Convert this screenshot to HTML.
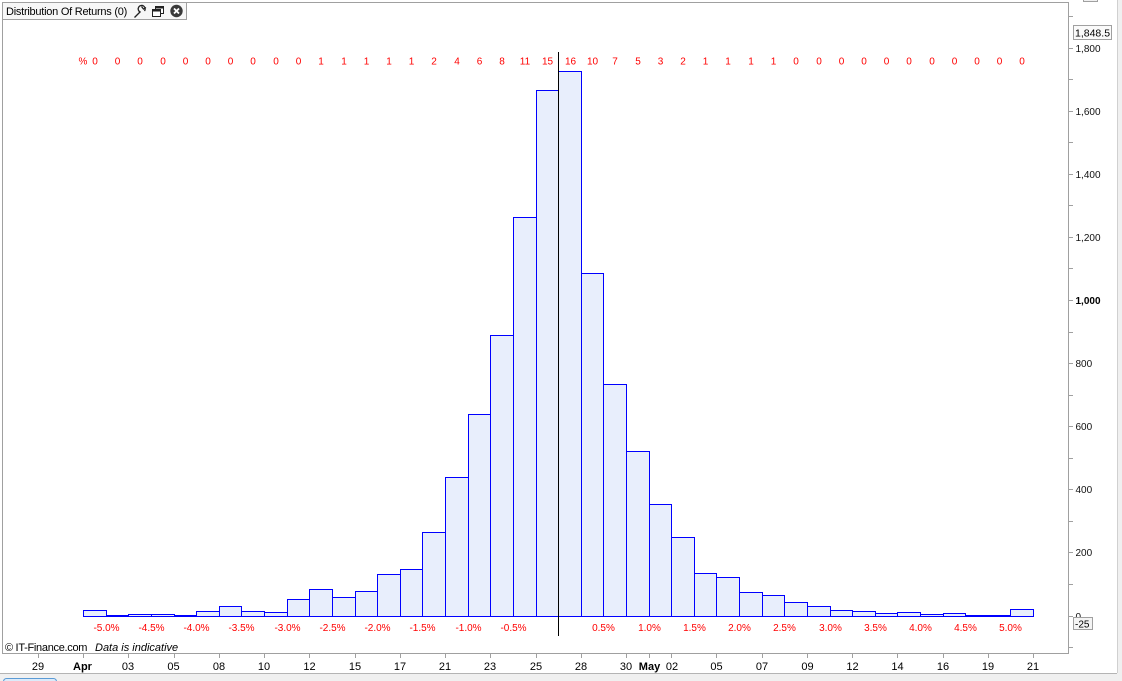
<!DOCTYPE html>
<html><head><meta charset="utf-8"><style>
html,body{margin:0;padding:0;background:#fff;}
body{width:1122px;height:681px;overflow:hidden;}
svg{display:block;font-family:"Liberation Sans",Arial,sans-serif;}
</style></head><body>
<svg width="1122" height="681" viewBox="0 0 1122 681" xmlns="http://www.w3.org/2000/svg">
<rect x="0" y="0" width="1122" height="681" fill="#fff"/>
<rect x="1117" y="0" width="5" height="681" fill="#f0f0f0"/>
<line x1="1117.5" y1="0" x2="1117.5" y2="673" stroke="#d0d0d0"/>
<rect x="0" y="673" width="1122" height="8" fill="#f0f0f0"/>
<line x1="0" y1="673.5" x2="1117" y2="673.5" stroke="#b4b4b4"/>
<rect x="3.5" y="678.5" width="53" height="8" rx="3" fill="#dcebfa" stroke="#5b9bd5"/>
<rect x="1083.5" y="-3.5" width="14" height="5" fill="#f0f0f0" stroke="#a0a0a0"/>

<rect x="2.5" y="2.5" width="1066" height="651" fill="#fff" stroke="#a0a0a0"/>

<rect x="2.5" y="2.5" width="184" height="17" fill="#f7f7f7" stroke="#a0a0a0"/>
<text x="6" y="15" font-size="11" letter-spacing="-0.25" fill="#000">Distribution Of Returns (0)</text>
<g fill="none" stroke="#222" stroke-width="1.3">
<path d="M134.5,17.5 L140.5,11.5"/>
<path d="M140,12 a3.5,3.5 0 1 1 4.5,-1 M141.5,6.5 l2,2.5 l2.5,-1.5"/>
</g>
<rect x="155.5" y="6.5" width="8" height="7" fill="#fff" stroke="#222"/>
<rect x="155.5" y="6.5" width="8" height="2" fill="#222"/>
<rect x="152.5" y="9.5" width="8" height="7" fill="#fff" stroke="#222"/>
<rect x="152.5" y="9.5" width="8" height="2" fill="#222"/>
<circle cx="176.5" cy="11" r="6.2" fill="#3a3a3a"/>
<path d="M174,8.5 L179,13.5 M179,8.5 L174,13.5" stroke="#fff" stroke-width="1.8"/>

<g stroke="#a0a0a0">
<line x1="1068" y1="16.5" x2="1073" y2="16.5"/>
<line x1="1068" y1="48.5" x2="1073" y2="48.5"/>
<line x1="1068" y1="79.5" x2="1073" y2="79.5"/>
<line x1="1068" y1="111.5" x2="1073" y2="111.5"/>
<line x1="1068" y1="142.5" x2="1073" y2="142.5"/>
<line x1="1068" y1="174.5" x2="1073" y2="174.5"/>
<line x1="1068" y1="205.5" x2="1073" y2="205.5"/>
<line x1="1068" y1="237.5" x2="1073" y2="237.5"/>
<line x1="1068" y1="268.5" x2="1073" y2="268.5"/>
<line x1="1068" y1="300.5" x2="1073" y2="300.5"/>
<line x1="1068" y1="332.5" x2="1073" y2="332.5"/>
<line x1="1068" y1="363.5" x2="1073" y2="363.5"/>
<line x1="1068" y1="395.5" x2="1073" y2="395.5"/>
<line x1="1068" y1="426.5" x2="1073" y2="426.5"/>
<line x1="1068" y1="458.5" x2="1073" y2="458.5"/>
<line x1="1068" y1="489.5" x2="1073" y2="489.5"/>
<line x1="1068" y1="521.5" x2="1073" y2="521.5"/>
<line x1="1068" y1="552.5" x2="1073" y2="552.5"/>
<line x1="1068" y1="584.5" x2="1073" y2="584.5"/>
<line x1="1068" y1="616.5" x2="1073" y2="616.5"/>
<line x1="1068" y1="647.5" x2="1073" y2="647.5"/>
</g>
<g font-size="10" fill="#111">
<text x="1075.5" y="52">1,800</text>
<text x="1075.5" y="115">1,600</text>
<text x="1075.5" y="178">1,400</text>
<text x="1075.5" y="241">1,200</text>
<text x="1075.5" y="304" font-weight="bold" fill="#000">1,000</text>
<text x="1075.5" y="367">800</text>
<text x="1075.5" y="430">600</text>
<text x="1075.5" y="493">400</text>
<text x="1075.5" y="556">200</text>
<text x="1075.5" y="620">0</text>
</g>
<rect x="1073.5" y="25.5" width="38" height="14" fill="#fafafa" stroke="#a0a0a0"/>
<text x="1075" y="36.5" font-size="10.5" fill="#000">1,848.5</text>
<rect x="1073.5" y="617.5" width="19" height="12" fill="#f4f4f4" stroke="#a0a0a0"/>
<text x="1075" y="627.5" font-size="10" fill="#000">-25</text>

<g fill="#e8eefc" stroke="#0000ff" stroke-width="1">
<rect x="83.5" y="610.5" width="23" height="6"/>
<rect x="106.5" y="615.5" width="22" height="1"/>
<rect x="128.5" y="614.5" width="23" height="2"/>
<rect x="151.5" y="614.5" width="23" height="2"/>
<rect x="174.5" y="615.5" width="22" height="1"/>
<rect x="196.5" y="611.5" width="23" height="5"/>
<rect x="219.5" y="606.5" width="22" height="10"/>
<rect x="241.5" y="611.5" width="23" height="5"/>
<rect x="264.5" y="612.5" width="23" height="4"/>
<rect x="287.5" y="599.5" width="22" height="17"/>
<rect x="309.5" y="589.5" width="23" height="27"/>
<rect x="332.5" y="597.5" width="23" height="19"/>
<rect x="355.5" y="591.5" width="22" height="25"/>
<rect x="377.5" y="574.5" width="23" height="42"/>
<rect x="400.5" y="569.5" width="22" height="47"/>
<rect x="422.5" y="532.5" width="23" height="84"/>
<rect x="445.5" y="477.5" width="23" height="139"/>
<rect x="468.5" y="414.5" width="22" height="202"/>
<rect x="490.5" y="335.5" width="23" height="281"/>
<rect x="513.5" y="217.5" width="23" height="399"/>
<rect x="536.5" y="90.5" width="22" height="526"/>
<rect x="558.5" y="71.5" width="23" height="545"/>
<rect x="581.5" y="273.5" width="22" height="343"/>
<rect x="603.5" y="384.5" width="23" height="232"/>
<rect x="626.5" y="451.5" width="23" height="165"/>
<rect x="649.5" y="504.5" width="22" height="112"/>
<rect x="671.5" y="537.5" width="23" height="79"/>
<rect x="694.5" y="573.5" width="22" height="43"/>
<rect x="716.5" y="577.5" width="23" height="39"/>
<rect x="739.5" y="592.5" width="23" height="24"/>
<rect x="762.5" y="595.5" width="22" height="21"/>
<rect x="784.5" y="602.5" width="23" height="14"/>
<rect x="807.5" y="606.5" width="23" height="10"/>
<rect x="830.5" y="610.5" width="22" height="6"/>
<rect x="852.5" y="611.5" width="23" height="5"/>
<rect x="875.5" y="613.5" width="22" height="3"/>
<rect x="897.5" y="612.5" width="23" height="4"/>
<rect x="920.5" y="614.5" width="23" height="2"/>
<rect x="943.5" y="613.5" width="22" height="3"/>
<rect x="965.5" y="615.5" width="23" height="1"/>
<rect x="988.5" y="615.5" width="22" height="1"/>
<rect x="1010.5" y="609.5" width="23" height="7"/>
</g>
<line x1="83" y1="616.5" x2="1034" y2="616.5" stroke="#0000ff"/>
<line x1="558.5" y1="52" x2="558.5" y2="636" stroke="#000"/>

<g font-size="10" fill="#ff0000" text-anchor="middle">
<text x="83" y="64.5">%</text>
<text x="95" y="64.5">0</text>
<text x="117.5" y="64.5">0</text>
<text x="140" y="64.5">0</text>
<text x="163" y="64.5">0</text>
<text x="185.5" y="64.5">0</text>
<text x="208" y="64.5">0</text>
<text x="230.5" y="64.5">0</text>
<text x="253" y="64.5">0</text>
<text x="276" y="64.5">0</text>
<text x="298.5" y="64.5">0</text>
<text x="321" y="64.5">1</text>
<text x="344" y="64.5">1</text>
<text x="366.5" y="64.5">1</text>
<text x="389" y="64.5">1</text>
<text x="411.5" y="64.5">1</text>
<text x="434" y="64.5">2</text>
<text x="457" y="64.5">4</text>
<text x="479.5" y="64.5">6</text>
<text x="502" y="64.5">8</text>
<text x="525" y="64.5">11</text>
<text x="547.5" y="64.5">15</text>
<text x="570.5" y="64.5">16</text>
<text x="592.5" y="64.5">10</text>
<text x="615" y="64.5">7</text>
<text x="638" y="64.5">5</text>
<text x="660.5" y="64.5">3</text>
<text x="683" y="64.5">2</text>
<text x="705.5" y="64.5">1</text>
<text x="728" y="64.5">1</text>
<text x="751" y="64.5">1</text>
<text x="773.5" y="64.5">1</text>
<text x="796" y="64.5">0</text>
<text x="819" y="64.5">0</text>
<text x="841.5" y="64.5">0</text>
<text x="864" y="64.5">0</text>
<text x="886.5" y="64.5">0</text>
<text x="909" y="64.5">0</text>
<text x="932" y="64.5">0</text>
<text x="954.5" y="64.5">0</text>
<text x="977" y="64.5">0</text>
<text x="999.5" y="64.5">0</text>
<text x="1022" y="64.5">0</text>
</g>

<g font-size="10" fill="#ff0000" text-anchor="middle">
<text x="106.5" y="631">-5.0%</text>
<text x="151.5" y="631">-4.5%</text>
<text x="196.5" y="631">-4.0%</text>
<text x="241.5" y="631">-3.5%</text>
<text x="287.5" y="631">-3.0%</text>
<text x="332.5" y="631">-2.5%</text>
<text x="377.5" y="631">-2.0%</text>
<text x="422.5" y="631">-1.5%</text>
<text x="468.5" y="631">-1.0%</text>
<text x="513.5" y="631">-0.5%</text>
<text x="603.5" y="631">0.5%</text>
<text x="649.5" y="631">1.0%</text>
<text x="694.5" y="631">1.5%</text>
<text x="739.5" y="631">2.0%</text>
<text x="784.5" y="631">2.5%</text>
<text x="830.5" y="631">3.0%</text>
<text x="875.5" y="631">3.5%</text>
<text x="920.5" y="631">4.0%</text>
<text x="965.5" y="631">4.5%</text>
<text x="1010.5" y="631">5.0%</text>
</g>

<text x="5" y="651" font-size="11" letter-spacing="-0.3" fill="#000">© IT-Finance.com</text>
<text x="95" y="651" font-size="11" font-style="italic" fill="#000">Data is indicative</text>

<g stroke="#a0a0a0">
<line x1="38.5" y1="653" x2="38.5" y2="658"/>
<line x1="83.5" y1="653" x2="83.5" y2="658"/>
<line x1="128.5" y1="653" x2="128.5" y2="658"/>
<line x1="174.5" y1="653" x2="174.5" y2="658"/>
<line x1="219.5" y1="653" x2="219.5" y2="658"/>
<line x1="264.5" y1="653" x2="264.5" y2="658"/>
<line x1="309.5" y1="653" x2="309.5" y2="658"/>
<line x1="355.5" y1="653" x2="355.5" y2="658"/>
<line x1="400.5" y1="653" x2="400.5" y2="658"/>
<line x1="445.5" y1="653" x2="445.5" y2="658"/>
<line x1="490.5" y1="653" x2="490.5" y2="658"/>
<line x1="536.5" y1="653" x2="536.5" y2="658"/>
<line x1="581.5" y1="653" x2="581.5" y2="658"/>
<line x1="626.5" y1="653" x2="626.5" y2="658"/>
<line x1="649.5" y1="653" x2="649.5" y2="658"/>
<line x1="671.5" y1="653" x2="671.5" y2="658"/>
<line x1="716.5" y1="653" x2="716.5" y2="658"/>
<line x1="762.5" y1="653" x2="762.5" y2="658"/>
<line x1="807.5" y1="653" x2="807.5" y2="658"/>
<line x1="852.5" y1="653" x2="852.5" y2="658"/>
<line x1="897.5" y1="653" x2="897.5" y2="658"/>
<line x1="943.5" y1="653" x2="943.5" y2="658"/>
<line x1="988.5" y1="653" x2="988.5" y2="658"/>
<line x1="1033.5" y1="653" x2="1033.5" y2="658"/>
</g>
<g font-size="11" fill="#000" text-anchor="middle">
<text x="38" y="670">29</text>
<text x="82.5" y="670" font-weight="bold">Apr</text>
<text x="128" y="670">03</text>
<text x="173.5" y="670">05</text>
<text x="219" y="670">08</text>
<text x="264" y="670">10</text>
<text x="309.5" y="670">12</text>
<text x="355" y="670">15</text>
<text x="400" y="670">17</text>
<text x="445" y="670">21</text>
<text x="490" y="670">23</text>
<text x="536" y="670">25</text>
<text x="581" y="670">28</text>
<text x="626" y="670">30</text>
<text x="649.5" y="670" font-weight="bold">May</text>
<text x="672" y="670">02</text>
<text x="716.5" y="670">05</text>
<text x="762" y="670">07</text>
<text x="807.5" y="670">09</text>
<text x="852.5" y="670">12</text>
<text x="897.5" y="670">14</text>
<text x="943" y="670">16</text>
<text x="988" y="670">19</text>
<text x="1033" y="670">21</text>
</g>
</svg>
</body></html>
